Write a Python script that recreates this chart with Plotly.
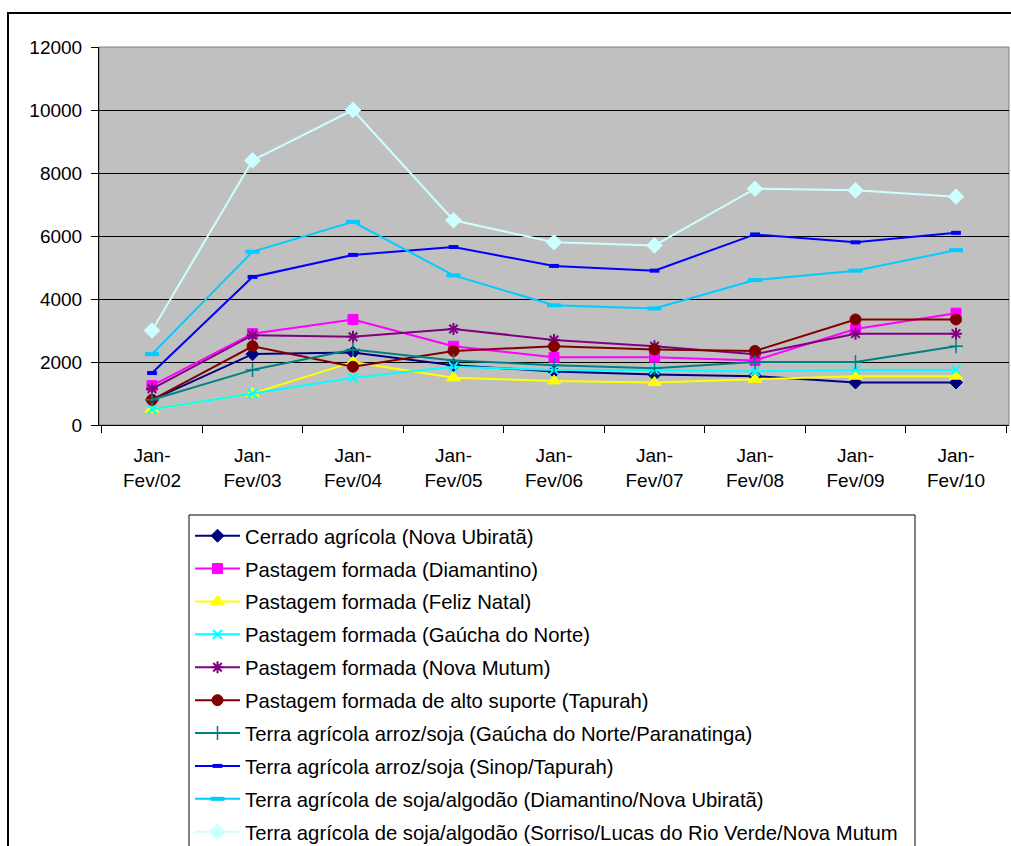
import plotly.graph_objects as go

categories = ["Jan-<br>Fev/02", "Jan-<br>Fev/03", "Jan-<br>Fev/04", "Jan-<br>Fev/05", "Jan-<br>Fev/06",
              "Jan-<br>Fev/07", "Jan-<br>Fev/08", "Jan-<br>Fev/09", "Jan-<br>Fev/10"]

cerrado_nova_ubirata = [800, 2250, 2300, 1900, 1700, 1600, 1550, 1350, 1350]
pastagem_diamantino = [1250, 2900, 3350, 2500, 2150, 2150, 2050, 3050, 3550]
pastagem_feliz_natal = [500, 1000, 2000, 1500, 1400, 1350, 1450, 1550, 1550]
pastagem_gaucha_norte = [500, 1000, 1500, 1850, 1750, 1750, 1700, 1750, 1750]
pastagem_nova_mutum = [1150, 2850, 2800, 3050, 2700, 2500, 2250, 2900, 2900]
pastagem_alto_suporte_tapurah = [800, 2500, 1850, 2350, 2500, 2400, 2350, 3350, 3350]
terra_arroz_gaucha_paranatinga = [800, 1750, 2400, 2050, 1900, 1800, 2000, 2000, 2500]
terra_arroz_sinop_tapurah = [1650, 4700, 5400, 5650, 5050, 4900, 6050, 5800, 6100]
terra_soja_diamantino_ubirata = [2250, 5500, 6450, 4750, 3800, 3700, 4600, 4900, 5550]
terra_soja_sorriso_lucas_mutum = [3000, 8400, 10000, 6500, 5800, 5700, 7500, 7450, 7250]

series = [
    ("Cerrado agrícola (Nova Ubiratã)", cerrado_nova_ubirata, "#000080", "diamond", 10, 1),
    ("Pastagem formada (Diamantino)", pastagem_diamantino, "#FF00FF", "square", 10, 1),
    ("Pastagem formada (Feliz Natal)", pastagem_feliz_natal, "#FFFF00", "triangle-up", 12, 1),
    ("Pastagem formada (Gaúcha do Norte)", pastagem_gaucha_norte, "#00FFFF", "x-thin-open", 9, 2),
    ("Pastagem formada (Nova Mutum)", pastagem_nova_mutum, "#800080", "asterisk-open", 10, 2),
    ("Pastagem formada de alto suporte (Tapurah)", pastagem_alto_suporte_tapurah, "#800000", "circle", 11, 1),
    ("Terra agrícola arroz/soja (Gaúcha do Norte/Paranatinga)", terra_arroz_gaucha_paranatinga, "#008080", "cross-thin-open", 10, 1.5),
    ("Terra agrícola arroz/soja (Sinop/Tapurah)", terra_arroz_sinop_tapurah, "#0000FF", "line-ew-open", 7, 4),
    ("Terra agrícola de soja/algodão (Diamantino/Nova Ubiratã)", terra_soja_diamantino_ubirata, "#00CCFF", "line-ew-open", 10, 4),
    ("Terra agrícola de soja/algodão (Sorriso/Lucas do Rio Verde/Nova Mutum", terra_soja_sorriso_lucas_mutum, "#CCFFFF", "diamond", 12, 1),
]

fig = go.Figure()
for i, (name, vals, color, sym, size, lw) in enumerate(series):
    fig.add_trace(go.Scatter(
        x=categories, y=vals, name=name, mode="lines+markers",
        line=dict(color=color, width=2),
        marker=dict(symbol=sym, size=size, color=color, line=dict(color=color, width=lw)),
        legendgroup="g%d" % i,
    ))

W, H = 1011, 846
L, R, T, B = 99, 1009, 47, 425

def px_x(p):
    return (p - L) / (R - L)

def px_y(p):
    return (B - p) / (B - T)

fig.update_layout(
    width=W, height=H,
    margin=dict(l=L, r=W - R, t=T, b=H - B, autoexpand=False),
    paper_bgcolor="white",
    plot_bgcolor="#C0C0C0",
    font=dict(family="Liberation Sans, Arial, sans-serif", size=19, color="black"),
    showlegend=True,
    legend=dict(
        x=px_x(190), y=px_y(516), xanchor="left", yanchor="top",
        borderwidth=0, bgcolor="rgba(0,0,0,0)",
        traceorder="grouped", tracegroupgap=3.5, itemwidth=45,
        font=dict(size=20.3),
    ),
    xaxis=dict(
        type="category", tickson="boundaries", ticks="outside", ticklen=7,
        tickcolor="black", showline=True, linecolor="black", linewidth=1,
        showgrid=False, zeroline=False, ticklabelstandoff=13,
    ),
    yaxis=dict(
        range=[0, 12000], dtick=2000, tick0=0, ticks="outside", ticklen=7,
        tickcolor="black", showline=True, linecolor="black", linewidth=1,
        showgrid=True, gridcolor="black", gridwidth=1, zeroline=False,
        ticklabelstandoff=5, tickformat="d",
    ),
    shapes=[
        dict(type="rect", xref="paper", yref="paper", x0=0, x1=1, y0=0, y1=1,
             line=dict(color="#808080", width=1), layer="below"),
        dict(type="rect", xref="paper", yref="paper",
             x0=px_x(189), x1=px_x(915), y0=px_y(515), y1=px_y(900),
             line=dict(color="black", width=1), layer="above"),
        dict(type="rect", xref="paper", yref="paper",
             x0=px_x(8), x1=px_x(1016), y0=px_y(13), y1=px_y(880),
             line=dict(color="black", width=2), layer="above"),
    ],
)

fig.write_html("out.html")
